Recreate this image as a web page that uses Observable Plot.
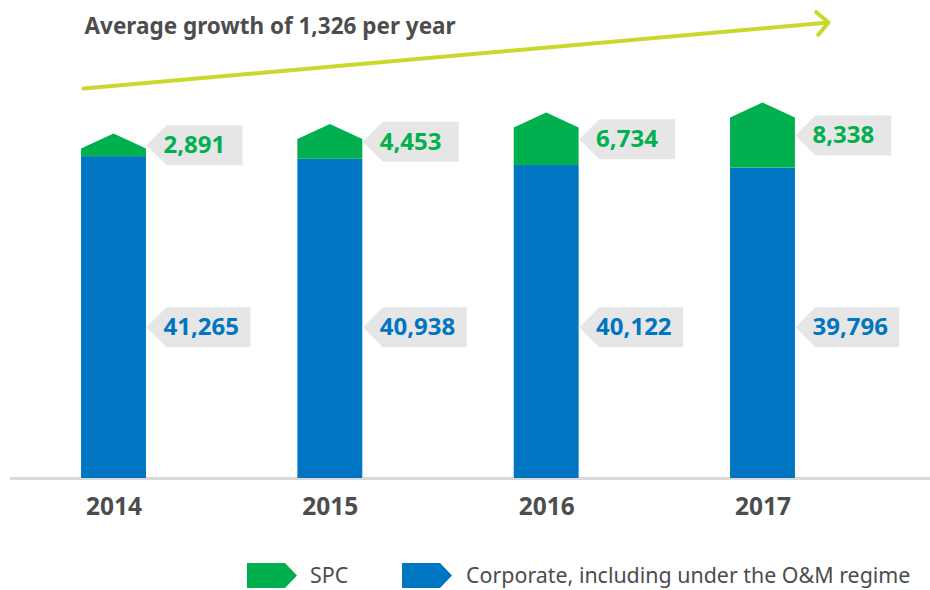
<!DOCTYPE html>
<html><head><meta charset="utf-8">
<script src="https://cdn.jsdelivr.net/npm/d3@7"></script>
<script src="https://cdn.jsdelivr.net/npm/@observablehq/plot@0.6"></script>
<style>
body{margin:0;background:#fff;font-family:"Noto Sans",sans-serif;}
#chart svg{display:block;}
#legend{position:relative;width:930px;height:45px;}
#legend .sw{position:absolute;top:18px;}
#legend .lab{position:absolute;top:16px;font-size:21.4px;color:#4d4d4d;line-height:28px;}
</style></head><body>
<div id="chart"></div>
<div id="legend"></div>
<script>
// ---- data ----
const years = [2014, 2015, 2016, 2017];
const corporate = [41265, 40938, 40122, 39796];
const spc = [2891, 4453, 6734, 8338];
const title = "Average growth of 1,326 per year";
const seriesNames = ["SPC", "Corporate, including under the O&M regime"];
const seriesColors = ["#00b04f", "#0075c1"];

// ---- derived table ----
const rows = years.map((year, i) => ({year, corp: corporate[i], spc: spc[i], total: corporate[i] + spc[i]}));
const hw = 0.15;          // half bar width in year units
const cap = 1920;         // pentagon cap height in value units
const blueLabelLevel = 19400;
const fmt = d3.format(",");

const greenShape = rows.flatMap(d => [
  {year: d.year, x: d.year - hw, y1: d.corp, y2: d.total - cap},
  {year: d.year, x: d.year, y1: d.corp, y2: d.total},
  {year: d.year, x: d.year + hw, y1: d.corp, y2: d.total - cap}
]);

function tag(W) {
  return {draw(ctx) {
    ctx.moveTo(0, 0); ctx.lineTo(20, -20); ctx.lineTo(W, -20);
    ctx.lineTo(W, 20); ctx.lineTo(20, 20); ctx.closePath();
  }};
}

const arrowSpec = [{x1: years[0] - 0.141, y1: 50000, x2: years[years.length - 1] + 0.303, y2: 58460}];

const chart = Plot.plot({
  width: 930, height: 545,
  marginLeft: 10, marginRight: 0, marginTop: 0, marginBottom: 0,
  style: {fontFamily: "'Noto Sans', sans-serif", background: "#fff"},
  x: {domain: [2013.4753, 2017.7743], range: [0, 930], axis: null},
  y: {domain: [0, 61282], range: [478, 0], axis: null},
  marks: [
    Plot.ruleY([0], {stroke: "#d9d9d9", strokeWidth: 3}),
    Plot.rect(rows, {x1: d => d.year - hw, x2: d => d.year + hw, y1: () => 0, y2: "corp", fill: seriesColors[1]}),
    Plot.area(greenShape, {x1: "x", y1: "y1", y2: "y2", z: "year", fill: seriesColors[0]}),
    Plot.dot(rows, {x: d => d.year + hw, y: d => d.corp + d.spc / 2, symbol: tag(96), fill: "#e6e6e6", stroke: "none"}),
    Plot.dot(rows, {x: d => d.year + hw, y: () => blueLabelLevel, symbol: tag(104), fill: "#e6e6e6", stroke: "none"}),
    Plot.text(rows, {x: d => d.year + hw, y: d => d.corp + d.spc / 2, text: d => fmt(d.spc), dx: 17, textAnchor: "start", fill: seriesColors[0], fontSize: 24, fontWeight: "bold"}),
    Plot.text(rows, {x: d => d.year + hw, y: () => blueLabelLevel, text: d => fmt(d.corp), dx: 17, textAnchor: "start", fill: seriesColors[1], fontSize: 24, fontWeight: "bold"}),
    Plot.text(rows, {x: "year", y: () => 0, text: d => String(d.year), dy: 29, fill: "#4d4d4d", fontSize: 24.5, fontWeight: "bold"}),
    Plot.arrow(arrowSpec, {x1: "x1", y1: "y1", x2: "x2", y2: "y2", stroke: "#c9d82b", strokeWidth: 4, headLength: 6, headAngle: 90}),
    Plot.text([title], {frameAnchor: "top-left", dx: 74, dy: 26.5, lineAnchor: "middle", textAnchor: "start", fill: "#4d4d4d", fontSize: 22.5, fontWeight: "bold"})
  ]
});
document.getElementById("chart").appendChild(chart);

// ---- legend ----
const legend = document.getElementById("legend");
const legendPos = [[247, 310], [402, 466]];
seriesNames.forEach((name, i) => {
  const sw = document.createElementNS("http://www.w3.org/2000/svg", "svg");
  sw.setAttribute("class", "sw");
  sw.setAttribute("width", 50); sw.setAttribute("height", 25);
  sw.style.left = legendPos[i][0] + "px";
  sw.innerHTML = `<polygon points="0,0 38,0 50,12.5 38,25 0,25" fill="${seriesColors[i]}"/>`;
  legend.appendChild(sw);
  const lab = document.createElement("div");
  lab.className = "lab";
  lab.style.left = legendPos[i][1] + "px";
  lab.textContent = name;
  legend.appendChild(lab);
});
</script>
</body></html>
